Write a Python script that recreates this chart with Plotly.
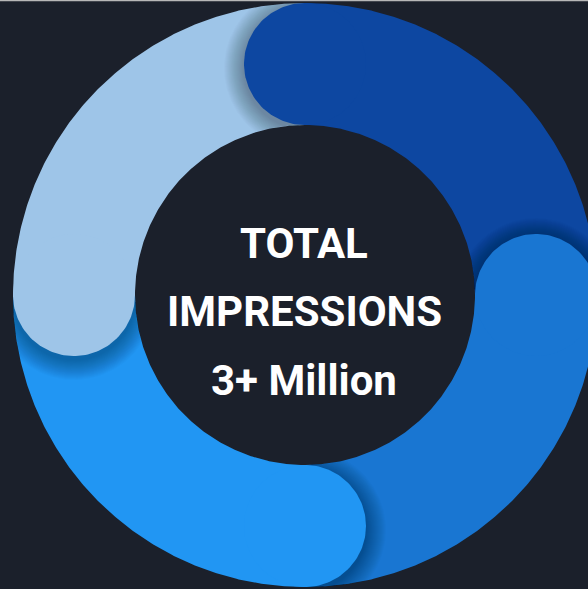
import numpy as np
import plotly.graph_objects as go

# ---- data ----
segments = ["Segment 1", "Segment 2", "Segment 3", "Segment 4"]
values = [25, 25, 25, 25]
colors = ["#0d47a1", "#1976d2", "#2196f3", "#9ec5e8"]
center_lines = ["TOTAL", "IMPRESSIONS", "3+ Million"]

# ---- layout geometry (pixels) ----
W, H = 588, 589
CX, CY = 305, 295
R_IN, R_OUT = 170, 292
R_MID = (R_IN + R_OUT) / 2
CAP = (R_OUT - R_IN) / 2
BG = "#1b202b"
START = 0.0  # degrees clockwise from 12 o'clock


def pol(r, t):
    t = np.radians(t)
    return CX + r * np.sin(t), CY - r * np.cos(t)


def arc_poly(t0, t1):
    ts = np.linspace(t0, t1, 200)
    xo, yo = pol(R_OUT, ts)
    xi, yi = pol(R_IN, ts[::-1])
    return np.concatenate([xo, xi, xo[:1]]), np.concatenate([yo, yi, yo[:1]])


def circle(x0, y0, r, n=160):
    a = np.linspace(0, 2 * np.pi, n)
    return x0 + r * np.cos(a), y0 + r * np.sin(a)


def shadow_poly(start, r, dx=0.0, dy=4.0):
    x0, y0 = pol(R_MID, start)
    xs, ys = circle(x0 + dx, y0 + dy, r, 240)
    rr = np.hypot(xs - CX, ys - CY)
    th = np.degrees(np.arctan2(xs - CX, -(ys - CY)))
    d = (th - start + 180) % 360 - 180
    d = np.minimum(d, 0)
    rr = np.clip(rr, R_IN, R_OUT)
    return pol(rr, start + d)


total = sum(values)
starts, ends = [], []
acc = START
for v in values:
    starts.append(acc)
    acc += v / total * 360
    ends.append(acc)

fig = go.Figure()

# arcs
for name, s, e, c in zip(segments, starts, ends, colors):
    x, y = arc_poly(s, e)
    fig.add_trace(go.Scatter(x=x, y=y, fill="toself", fillcolor=c, mode="lines",
                             line=dict(width=0, color=c), name=name, hoverinfo="skip"))

# soft shadows of the rounded heads
for s in starts:
    for k in range(1, 21):
        x, y = shadow_poly(s, CAP + k)
        fig.add_trace(go.Scatter(x=x, y=y, fill="toself", fillcolor="rgba(0,0,0,0.015)",
                                 mode="lines", line=dict(width=0, color="rgba(0,0,0,0)"),
                                 hoverinfo="skip", showlegend=False))

# rounded heads
for s, c in zip(starts, colors):
    x0, y0 = pol(R_MID, s)
    x, y = circle(x0, y0, CAP)
    fig.add_trace(go.Scatter(x=x, y=y, fill="toself", fillcolor=c, mode="lines",
                             line=dict(width=0, color=c), hoverinfo="skip", showlegend=False))

text_y = [243, 311, 380]
for t, ty in zip(center_lines, text_y):
    fig.add_annotation(x=CX - 1, y=ty, text=t, showarrow=False, xanchor="center", yanchor="middle",
                       font=dict(family="Roboto", size=42, color="white", weight=700))

fig.add_shape(type="rect", x0=0, x1=W, y0=0, y1=1.2, fillcolor="#b8b8b8", line=dict(width=0))

fig.update_layout(
    width=W, height=H, margin=dict(l=0, r=0, t=0, b=0),
    paper_bgcolor=BG, plot_bgcolor=BG, showlegend=False,
    xaxis=dict(range=[0, W], visible=False, fixedrange=True),
    yaxis=dict(range=[H, 0], visible=False, fixedrange=True),
)

fig.write_html("out.html")
